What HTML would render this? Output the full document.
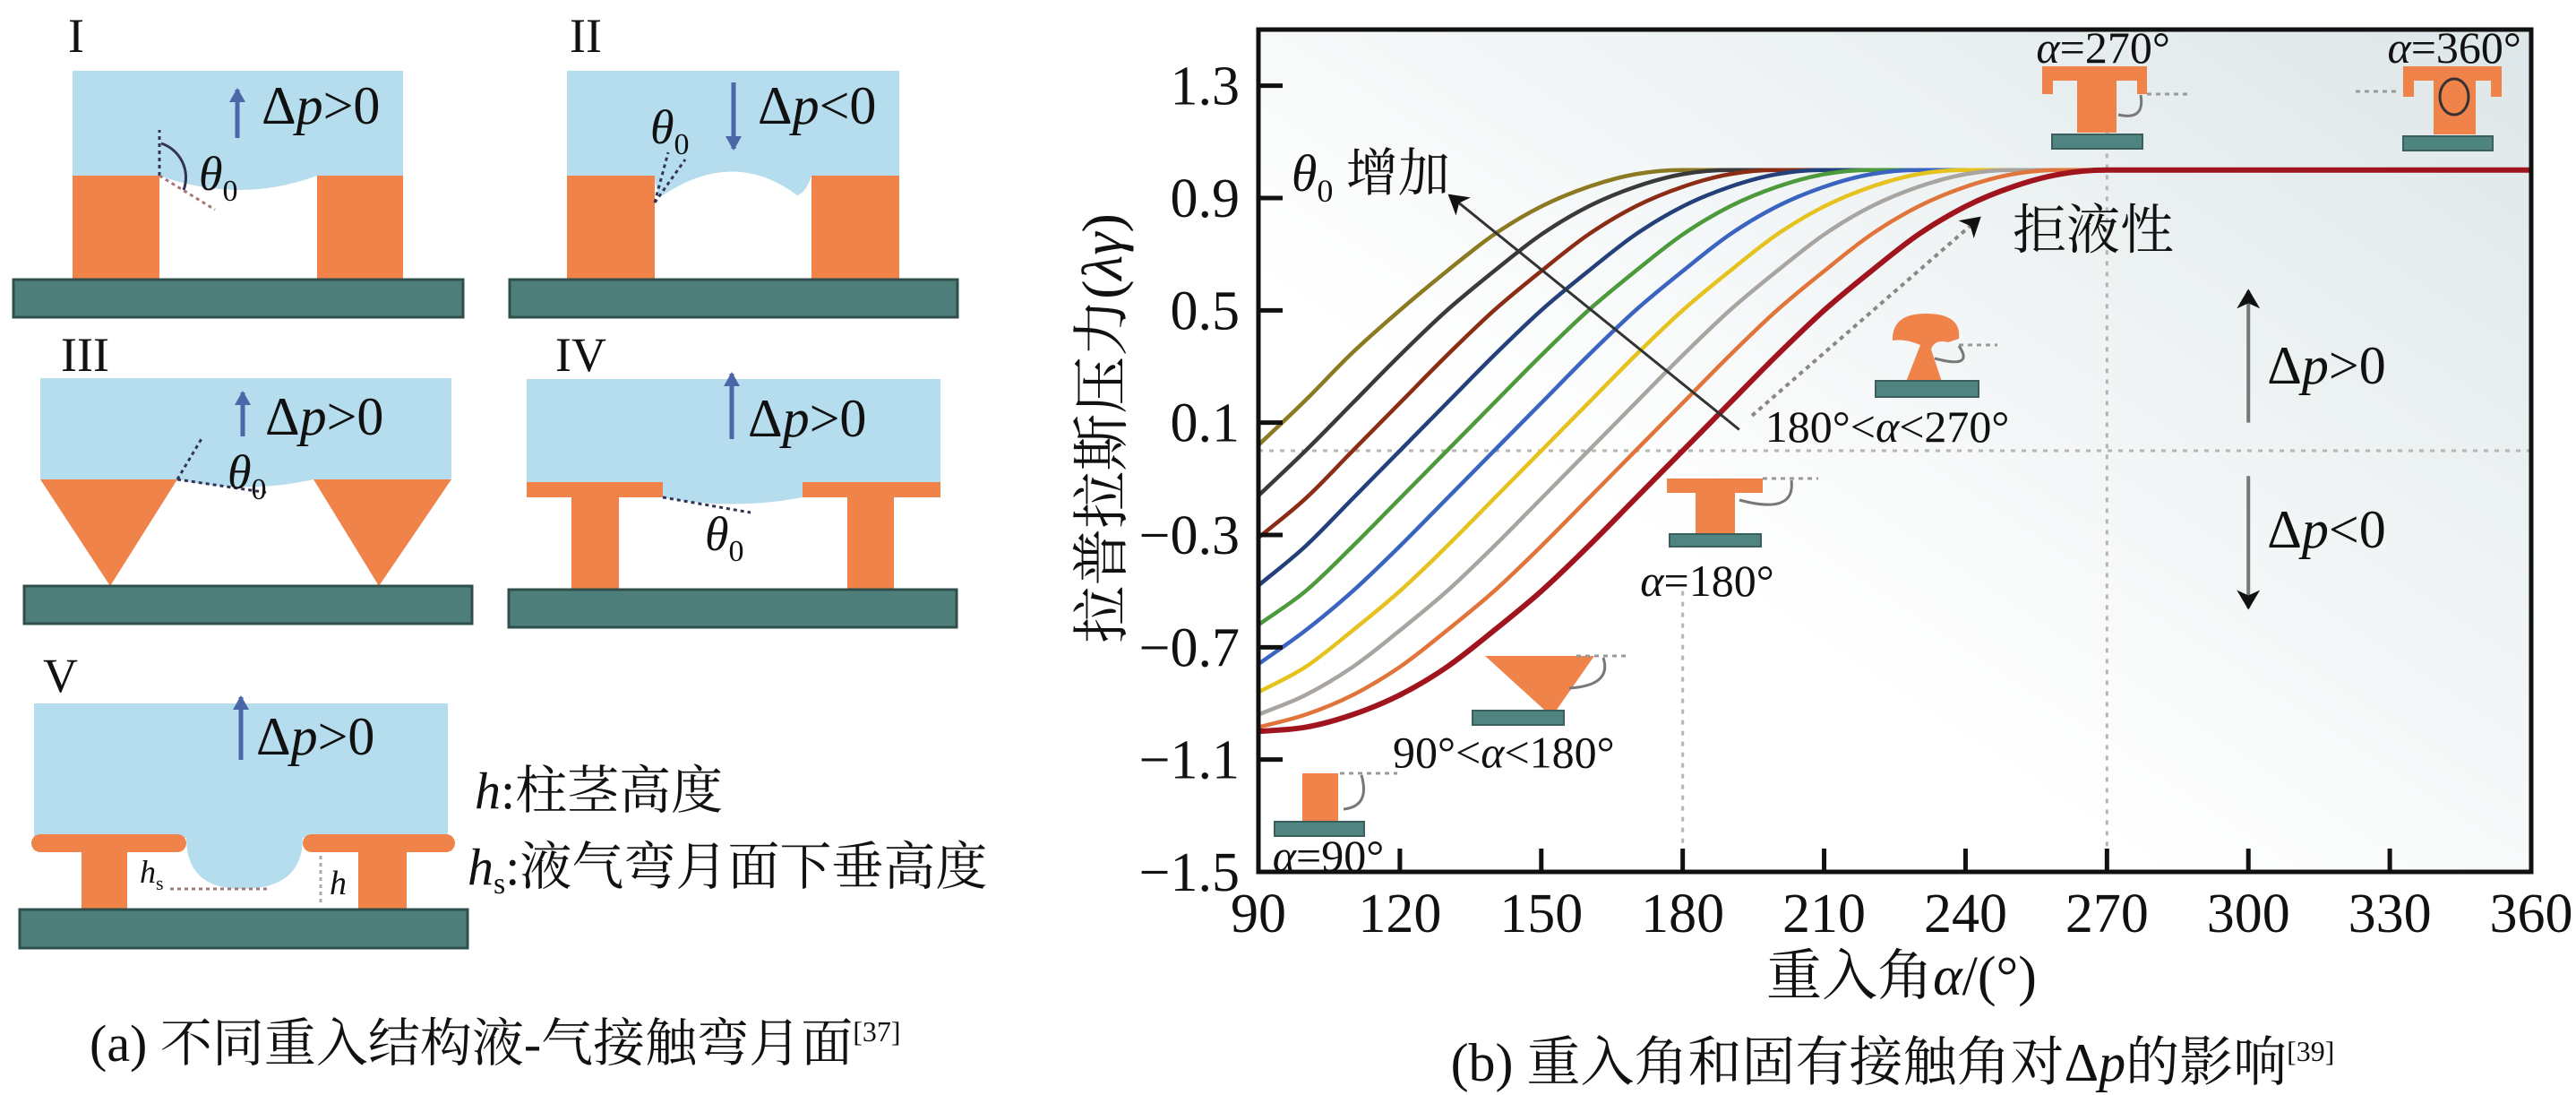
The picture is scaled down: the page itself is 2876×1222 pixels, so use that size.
<!DOCTYPE html>
<html><head><meta charset="utf-8">
<style>
html,body{margin:0;padding:0;background:#fff;}
svg{display:block;}
svg, svg text, svg tspan{font-family:"Liberation Serif","DejaVu Serif","Noto Serif CJK SC","Noto Sans CJK SC",serif !important;}
text{fill:#111;}
.it{font-style:italic;}
</style></head>
<body>
<svg id="fig" width="2876" height="1222" viewBox="0 0 2876 1222" xmlns="http://www.w3.org/2000/svg">
<defs>
<linearGradient id="bg" x1="0" y1="1" x2="1" y2="0">
<stop offset="0.35" stop-color="#ffffff"/><stop offset="1" stop-color="#dde6e8"/>
</linearGradient>
<marker id="ahb" markerWidth="22" markerHeight="26" refX="20" refY="13" orient="auto" markerUnits="userSpaceOnUse" viewBox="0 0 22 26">
<path d="M0,0 L22,13 L0,26 L6,13 Z" fill="#111"/></marker>
<marker id="ahblue" markerWidth="16" markerHeight="24" refX="14" refY="12" orient="auto" markerUnits="userSpaceOnUse" viewBox="0 0 16 24">
<path d="M0,3 L16,12 L0,21 Z" fill="#4a68a8"/></marker>
</defs>

<g>
 <g>
  <text x="76" y="58" font-size="54">I</text>
  <path d="M81,79 H450 V196 H354 Q268,228 178,196 H81 Z" fill="#b5dded"/>
  <rect x="81" y="196" width="97" height="116" fill="#f0834a"/>
  <rect x="354" y="196" width="96" height="116" fill="#f0834a"/>
  <rect x="15" y="312" width="502" height="42" fill="#4f7f7a" stroke="#2f4f4c" stroke-width="3"/>
  <path d="M178,196 V145" stroke="#335" stroke-width="3" stroke-dasharray="4,4" fill="none"/>
  <path d="M178,196 L240,234" stroke="#a77" stroke-width="3" stroke-dasharray="4,4" fill="none"/>
  <path d="M180,160 A40,40 0 0 1 205,212" stroke="#335" stroke-width="3" fill="none"/>
  <line x1="265" y1="154" x2="265" y2="100" stroke="#4a68a8" stroke-width="5" marker-end="url(#ahblue)"/>
  <text x="292" y="138" font-size="60">Δ<tspan class="it">p</tspan>&gt;0</text>
  <text x="222" y="212" font-size="54" class="it">θ<tspan font-style="normal" font-size="34" dy="12">0</tspan></text>
 </g>
 <g>
  <text x="636" y="58" font-size="54">II</text>
  <path d="M633,79 H1004 V196 H906 Q900,215 890,218 Q820,165 740,218 Q731,215 731,196 H633 Z" fill="#b5dded"/>
  <rect x="633" y="196" width="98" height="116" fill="#f0834a"/>
  <rect x="906" y="196" width="98" height="116" fill="#f0834a"/>
  <rect x="569" y="312" width="500" height="42" fill="#4f7f7a" stroke="#2f4f4c" stroke-width="3"/>
  <path d="M731,226 L746,170 M731,226 L765,178" stroke="#335" stroke-width="3" stroke-dasharray="4,4" fill="none"/>
  <line x1="819" y1="92" x2="819" y2="166" stroke="#4a68a8" stroke-width="5" marker-end="url(#ahblue)"/>
  <text x="846" y="138" font-size="60">Δ<tspan class="it">p</tspan>&lt;0</text>
  <text x="726" y="160" font-size="54" class="it">θ<tspan font-style="normal" font-size="34" dy="12">0</tspan></text>
 </g>
 <g>
  <text x="68" y="414" font-size="54">III</text>
  <path d="M45,422 H504 V535 H350 Q275,552 198,535 H45 Z" fill="#b5dded"/>
  <path d="M45,535 H198 L123,654 Z" fill="#f0834a"/>
  <path d="M350,535 H504 L423,654 Z" fill="#f0834a"/>
  <rect x="27" y="654" width="500" height="42" fill="#4f7f7a" stroke="#2f4f4c" stroke-width="3"/>
  <path d="M198,535 L226,488 M198,535 L300,550" stroke="#335" stroke-width="3" stroke-dasharray="4,4" fill="none"/>
  <line x1="271" y1="487" x2="271" y2="438" stroke="#4a68a8" stroke-width="5" marker-end="url(#ahblue)"/>
  <text x="296" y="485" font-size="60">Δ<tspan class="it">p</tspan>&gt;0</text>
  <text x="254" y="545" font-size="54" class="it">θ<tspan font-style="normal" font-size="34" dy="12">0</tspan></text>
 </g>
 <g>
  <text x="620" y="414" font-size="54">IV</text>
  <path d="M588,423 H1050 V538 H896 V555 Q818,570 740,555 V538 H588 Z" fill="#b5dded"/>
  <rect x="588" y="538" width="152" height="17" fill="#f0834a"/>
  <rect x="896" y="538" width="154" height="17" fill="#f0834a"/>
  <rect x="638" y="555" width="53" height="103" fill="#f0834a"/>
  <rect x="946" y="555" width="52" height="103" fill="#f0834a"/>
  <rect x="568" y="658" width="500" height="42" fill="#4f7f7a" stroke="#2f4f4c" stroke-width="3"/>
  <path d="M740,555 L838,572" stroke="#335" stroke-width="3" stroke-dasharray="4,4" fill="none"/>
  <line x1="817" y1="490" x2="817" y2="417" stroke="#4a68a8" stroke-width="5" marker-end="url(#ahblue)"/>
  <text x="835" y="487" font-size="60">Δ<tspan class="it">p</tspan>&gt;0</text>
  <text x="787" y="614" font-size="54" class="it">θ<tspan font-style="normal" font-size="34" dy="12">0</tspan></text>
 </g>
 <g>
  <text x="48" y="772" font-size="54">V</text>
  <path d="M38,785 H500 V935 H338 Q338,992 270,992 Q208,992 208,935 H38 Z" fill="#b5dded"/>
  <rect x="35" y="931" width="173" height="20" rx="10" fill="#f0834a"/>
  <rect x="338" y="931" width="170" height="20" rx="10" fill="#f0834a"/>
  <rect x="91" y="950" width="51" height="65" fill="#f0834a"/>
  <rect x="400" y="950" width="54" height="65" fill="#f0834a"/>
  <rect x="22" y="1015" width="500" height="43" fill="#4f7f7a" stroke="#2f4f4c" stroke-width="3"/>
  <path d="M190,992 H300" stroke="#a77" stroke-width="3" stroke-dasharray="4,4"/>
  <path d="M358,955 V1010" stroke="#aaa" stroke-width="3" stroke-dasharray="4,4"/>
  <line x1="269" y1="848" x2="269" y2="778" stroke="#4a68a8" stroke-width="5" marker-end="url(#ahblue)"/>
  <text x="286" y="842" font-size="60">Δ<tspan class="it">p</tspan>&gt;0</text>
  <text x="156" y="985" font-size="36" class="it">h<tspan font-style="normal" font-size="22" dy="8">s</tspan></text>
  <text x="368" y="998" font-size="38" class="it">h</text>
  <text x="530" y="902" font-size="58"><tspan class="it">h</tspan>:柱茎高度</text>
  <text x="522" y="987" font-size="58"><tspan class="it">h</tspan><tspan font-size="34" dy="10">s</tspan><tspan dy="-10">:液气弯月面下垂高度</tspan></text>
 </g>
 <text x="100" y="1184" font-size="58">(a) 不同重入结构液-气接触弯月面<tspan font-size="32" dy="-22">[37]</tspan></text>
</g>

<g id="chart">
 <rect x="1405" y="33" width="1421" height="940" fill="url(#bg)"/>
 <g id="guides"></g>
 <g id="curves"></g>
 <g>
  <g fill="#f0834a">
   <rect x="1454" y="863" width="40" height="55"/>
   <path d="M1658,732 H1780 L1738,792 H1724 Z"/>
   <rect x="1861" y="534" width="107" height="16"/><rect x="1893" y="549" width="44" height="48"/>
   <path d="M2113,380 Q2112,350 2150,350 Q2190,350 2187,378 L2175,382 Q2160,378 2156,390 L2168,426 H2128 L2144,385 Q2128,378 2113,380 Z"/>
   <path d="M2280,74 H2397 V105 H2386 V90 H2363 V148 H2319 V90 H2292 V105 H2280 Z"/>
   <path d="M2683,74 H2793 V108 H2781 V90 H2764 V150 H2717 V90 H2695 V108 H2683 Z"/>
  </g>
  <g fill="#4f8480" stroke="#3a5f5c" stroke-width="2">
   <rect x="1423" y="917" width="100" height="16"/>
   <rect x="1644" y="793" width="102" height="16"/>
   <rect x="1864" y="596" width="102" height="14"/>
   <rect x="2094" y="425" width="115" height="18"/>
   <rect x="2291" y="150" width="101" height="16"/>
   <rect x="2683" y="152" width="100" height="16"/>
  </g>
  <g fill="none" stroke="#999" stroke-width="3">
   <path d="M1496,863 H1560" stroke-dasharray="5,5"/><path d="M1520,865 Q1530,900 1500,903" stroke="#777"/>
   <path d="M1760,732 H1820" stroke-dasharray="5,5"/><path d="M1790,734 Q1800,765 1752,768" stroke="#777"/>
   <path d="M1968,534 H2030" stroke-dasharray="5,5"/><path d="M2000,536 Q2005,575 1942,558" stroke="#777"/>
   <path d="M2187,385 H2230" stroke-dasharray="5,5"/><path d="M2187,386 Q2205,412 2160,400" stroke="#777"/>
   <path d="M2397,105 H2445" stroke-dasharray="5,5"/><path d="M2390,106 Q2395,135 2365,128" stroke="#777"/>
   <path d="M2630,102 H2680" stroke-dasharray="5,5"/><ellipse cx="2740" cy="108" rx="16" ry="20" stroke="#333"/>
  </g>
 </g>
 <g id="annot"></g>
 <rect x="1405" y="33" width="1421" height="940" fill="none" stroke="#111" stroke-width="5"/>
 <g id="axes"></g>
 <text x="2123" y="1110" font-size="62" text-anchor="middle">重入角<tspan class="it">α</tspan>/(°)</text>
 <text transform="translate(1252,478) rotate(-90)" font-size="64" text-anchor="middle">拉普拉斯压力(<tspan class="it">λγ</tspan>)</text>
 <text x="2113" y="1206" font-size="60" text-anchor="middle">(b) 重入角和固有接触角对Δ<tspan class="it">p</tspan>的影响<tspan font-size="32" dy="-22">[39]</tspan></text>
</g>
</svg>
<script>
const xTicks = [90,120,150,180,210,240,270,300,330,360];
const yTicks = [-1.5,-1.1,-0.7,-0.3,0.1,0.5,0.9,1.3];
const yTickLabels = ["−1.5","−1.1","−0.7","−0.3","0.1","0.5","0.9","1.3"];
const alphas = [90,100,110,120,130,140,150,160,170,180,190,200,210,220,230,240,250,260,270,360];
const c0 = [0.02,0.18,0.35,0.5,0.64,0.77,0.87,0.94,0.985,1,1,1,1,1,1,1,1,1,1,1];
const c1 = [-0.16,0,0.17,0.34,0.5,0.64,0.77,0.87,0.94,0.985,1,1,1,1,1,1,1,1,1,1];
const c2 = [-0.31,-0.17,0,0.17,0.34,0.5,0.64,0.77,0.87,0.94,0.985,1,1,1,1,1,1,1,1,1];
const c3 = [-0.48,-0.34,-0.17,0,0.17,0.34,0.5,0.64,0.77,0.87,0.94,0.985,1,1,1,1,1,1,1,1];
const c4 = [-0.62,-0.5,-0.34,-0.17,0,0.17,0.34,0.5,0.64,0.77,0.87,0.94,0.985,1,1,1,1,1,1,1];
const c5 = [-0.76,-0.64,-0.5,-0.34,-0.17,0,0.17,0.34,0.5,0.64,0.77,0.87,0.94,0.985,1,1,1,1,1,1];
const c6 = [-0.86,-0.77,-0.64,-0.5,-0.34,-0.17,0,0.17,0.34,0.5,0.64,0.77,0.87,0.94,0.985,1,1,1,1,1];
const c7 = [-0.94,-0.87,-0.77,-0.64,-0.5,-0.34,-0.17,0,0.17,0.34,0.5,0.64,0.77,0.87,0.94,0.985,1,1,1,1];
const c8 = [-0.985,-0.94,-0.87,-0.77,-0.64,-0.5,-0.34,-0.17,0,0.17,0.34,0.5,0.64,0.77,0.87,0.94,0.985,1,1,1];
const c9 = [-1,-0.985,-0.94,-0.87,-0.77,-0.64,-0.5,-0.34,-0.17,0,0.17,0.34,0.5,0.64,0.77,0.87,0.94,0.985,1,1];
const series = [c0,c1,c2,c3,c4,c5,c6,c7,c8,c9];
const colors = ['#8c7a22','#3a3a3a','#8a2d14','#24407a','#4c9a3c','#3a64c0','#e6c21e','#a8a4a0','#e0743a','#a0141e'];

const NS='http://www.w3.org/2000/svg';
const X0=1405,X1=2826,Y0=973,Y1=33;
function xs(v){return X0+(v-90)/(360-90)*(X1-X0);}
function ys(v){return Y0-(v+1.5)/3*(Y0-Y1);}
function mk(tag,attrs,parent){const e=document.createElementNS(NS,tag);for(const k in attrs)e.setAttribute(k,attrs[k]);parent.appendChild(e);return e;}

const axes=document.getElementById('axes');
xTicks.forEach((t)=>{
  const l=mk('line',{x1:xs(t),x2:xs(t),y1:Y0,y2:Y0-26,stroke:'#111','stroke-width':5},axes);
  
  
  const tx=mk('text',{x:xs(t),y:1040,'font-size':62,'text-anchor':'middle'},axes);
  
  
  tx.textContent=t;
});
yTicks.forEach((t,i)=>{
  const l=mk('line',{x1:X0,x2:X0+27,y1:ys(t),y2:ys(t),stroke:'#111','stroke-width':5},axes);
  
  
  const tx=mk('text',{x:1384,y:ys(t)+21,'font-size':62,'text-anchor':'end'},axes);
  
  
  tx.textContent=yTickLabels[i];
});

const g=document.getElementById('guides');
const gh=mk('line',{x1:X0,x2:X1,y1:ys(0),y2:ys(0),stroke:'#b8b4b0','stroke-width':3,'stroke-dasharray':'5,7'},g);


const gv1=mk('line',{x1:xs(180),x2:xs(180),y1:ys(-0.5),y2:Y0,stroke:'#b8b4b0','stroke-width':3,'stroke-dasharray':'5,7'},g);


const gv2=mk('line',{x1:xs(270),x2:xs(270),y1:ys(1.25),y2:Y0,stroke:'#b8b4b0','stroke-width':3,'stroke-dasharray':'5,7'},g);



function pathFor(vals){
  const n=alphas.length, x=alphas, y=vals;
  const d=[],m=new Array(n);
  for(let i=0;i<n-1;i++)d.push((y[i+1]-y[i])/(x[i+1]-x[i]));
  m[0]=d[0];m[n-1]=d[n-2];
  for(let i=1;i<n-1;i++){ m[i]=(d[i-1]*d[i]<=0)?0:(d[i-1]+d[i])/2; }
  for(let i=0;i<n-1;i++){
    if(d[i]===0){m[i]=0;m[i+1]=0;continue;}
    const a=m[i]/d[i],b=m[i+1]/d[i],s=a*a+b*b;
    if(s>9){const t=3/Math.sqrt(s);m[i]=t*a*d[i];m[i+1]=t*b*d[i];}
  }
  let p='M'+xs(x[0]).toFixed(1)+','+ys(y[0]).toFixed(1);
  for(let i=0;i<n-1;i++){
    const h=x[i+1]-x[i];
    p+=' C'+xs(x[i]+h/3).toFixed(1)+','+ys(y[i]+m[i]*h/3).toFixed(1)+' '+xs(x[i+1]-h/3).toFixed(1)+','+ys(y[i+1]-m[i+1]*h/3).toFixed(1)+' '+xs(x[i+1]).toFixed(1)+','+ys(y[i+1]).toFixed(1);
  }
  return p;
}
const cg=document.getElementById('curves');
series.forEach((s,i)=>{
  const e=mk('path',{d:pathFor(s),fill:'none',stroke:colors[i],'stroke-width':i===9?6:4.5},cg);
  
  
});

const an=document.getElementById('annot');
function txt(x,y,size,html,name){
  const t=mk('text',{x:x,y:y,'font-size':size},an);
  
  
  t.innerHTML=html;return t;
}
const a1=mk('line',{x1:xs(192),y1:ys(0.075),x2:xs(130.5),y2:ys(0.91),stroke:'#333','stroke-width':3,'marker-end':'url(#ahb)'},an);


const a2=mk('line',{x1:xs(194.7),y1:ys(0.125),x2:xs(243),y2:ys(0.83),stroke:'#888','stroke-width':4,'stroke-dasharray':'5,5','marker-end':'url(#ahb)'},an);


const a3=mk('line',{x1:xs(300),y1:ys(0.1),x2:xs(300),y2:ys(0.57),stroke:'#777','stroke-width':4,'marker-end':'url(#ahb)'},an);


const a4=mk('line',{x1:xs(300),y1:ys(-0.09),x2:xs(300),y2:ys(-0.56),stroke:'#777','stroke-width':4,'marker-end':'url(#ahb)'},an);


txt(xs(97),ys(0.99)+20,58,'<tspan font-style="italic">θ</tspan><tspan font-size="36" dy="12">0</tspan><tspan dy="-12"> 增加</tspan>','theta-increase-label');
txt(xs(250),ys(0.79)+22,60,'拒液性','repellency-label');
txt(xs(304),ys(0.31)+22,60,'Δ<tspan font-style="italic">p</tspan>&gt;0','dp-positive-label');
txt(xs(304),ys(-0.275)+22,60,'Δ<tspan font-style="italic">p</tspan>&lt;0','dp-negative-label');
txt(xs(197.5),ys(0.09)+18,50,'180°&lt;<tspan font-style="italic">α</tspan>&lt;270°','label-180-270');
txt(xs(171),ys(-0.46)+18,50,'<tspan font-style="italic">α</tspan>=180°','label-180');
txt(xs(118.5),ys(-1.07)+18,50,'90°&lt;<tspan font-style="italic">α</tspan>&lt;180°','label-90-180');
txt(xs(93),ys(-1.44)+18,50,'<tspan font-style="italic">α</tspan>=90°','label-90');
txt(xs(255),70,50,'<tspan font-style="italic">α</tspan>=270°','label-270');
txt(xs(329.5),70,50,'<tspan font-style="italic">α</tspan>=360°','label-360');
</script>
</body></html>
